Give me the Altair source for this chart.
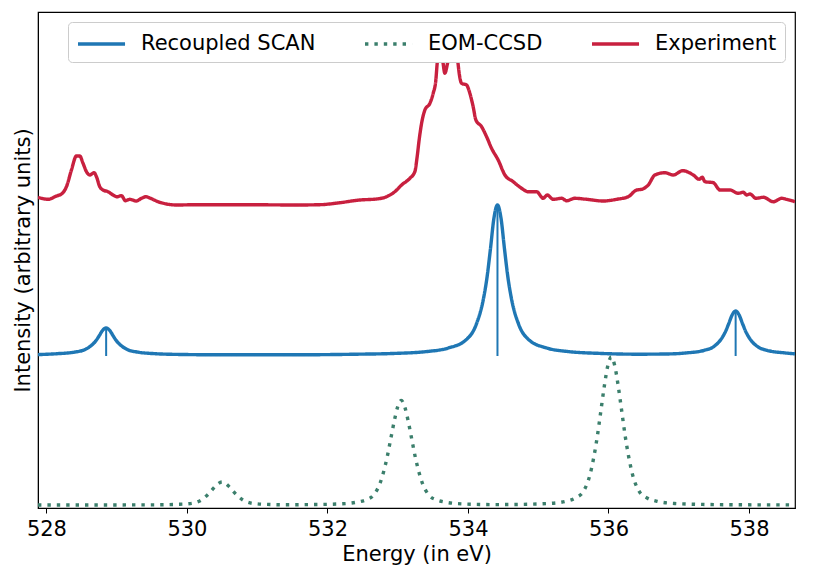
import altair as alt
import pandas as pd

# ---- data (x in eV, y in arbitrary units) ----
scan_x = [527.88, 528.15, 528.40, 528.55, 528.65, 528.70, 528.75, 528.80, 528.85, 528.90, 528.95,
          529.00, 529.05, 529.15, 529.30, 529.55, 529.85, 530.50, 531.50, 532.42, 532.92, 533.42,
          533.72, 533.97, 534.12, 534.22, 534.27, 534.32, 534.37, 534.42, 534.47, 534.52, 534.57,
          534.62, 534.72, 534.87, 535.12, 535.42, 535.92, 536.42, 536.81, 537.11, 537.36, 537.51,
          537.61, 537.66, 537.71, 537.76, 537.81, 537.86, 537.91, 537.96, 538.01, 538.11, 538.26,
          538.51, 538.655]
scan_y = [153.4, 154.3, 155.9, 158.5, 163.2, 166.9, 172.1, 177.7, 180.0, 177.7, 172.1,
          166.9, 163.2, 158.5, 155.9, 154.3, 153.6, 153.2, 153.2, 153.8, 154.5, 156.5,
          160.0, 168.0, 184.0, 209.0, 230.0, 259.0, 290.0, 303.0, 290.0, 259.0, 230.0,
          209.0, 184.0, 168.0, 160.0, 156.5, 154.5, 153.8, 154.0, 155.1, 157.6, 162.0,
          169.5, 175.6, 184.0, 193.0, 197.0, 193.0, 184.0, 175.6, 169.5, 162.0, 157.6,
          155.1, 154.2]

eom_x = [527.88, 528.60, 529.20, 529.60, 529.85, 530.00, 530.10, 530.20, 530.25, 530.30, 530.35,
         530.40, 530.45, 530.50, 530.55, 530.60, 530.65, 530.70, 530.75, 530.80, 530.90, 531.00,
         531.15, 531.40, 531.75, 532.15, 532.40, 532.55, 532.65, 532.75, 532.80, 532.85, 532.90,
         532.95, 533.00, 533.05, 533.10, 533.15, 533.20, 533.25, 533.30, 533.35, 533.45, 533.55,
         533.70, 533.95, 534.35, 534.74, 535.14, 535.39, 535.54, 535.64, 535.74, 535.79, 535.84,
         535.89, 535.94, 535.99, 536.04, 536.09, 536.14, 536.19, 536.24, 536.29, 536.34, 536.44,
         536.54, 536.69, 536.94, 537.34, 537.90, 538.655]
eom_y = [3.0, 3.0, 3.1, 3.2, 3.6, 4.15, 5.1, 7.8, 10.4, 13.6, 17.5,
         21.4, 24.6, 26.0, 24.6, 21.4, 17.5, 13.6, 10.4, 7.8, 5.1, 4.15,
         3.6, 3.2, 3.4, 4.0, 5.6, 8.2, 12.4, 25.0, 36.4, 51.0, 68.8,
         86.6, 101.2, 107.5, 101.2, 86.6, 68.8, 51.0, 36.4, 25.0, 12.4, 8.2,
         5.6, 4.0, 3.4, 3.6, 4.5, 6.7, 10.4, 16.3, 34.1, 50.4, 71.1,
         96.2, 121.4, 142.1, 151.0, 142.1, 121.4, 96.2, 71.1, 50.4, 34.1, 16.3,
         10.4, 6.7, 4.5, 3.6, 3.2, 3.1]

exp_x = [527.880, 528.023, 528.142, 528.214, 528.285, 528.356, 528.427, 528.474, 528.521, 528.570,
         528.617, 528.678, 528.712, 528.759, 528.806, 528.877, 528.948, 529.005, 529.068, 529.125,
         529.186, 529.281, 529.353, 529.414, 529.481, 529.589, 529.709, 529.851, 530.136, 530.848,
         531.560, 531.892, 532.177, 532.461, 532.699, 532.841, 532.959, 533.055, 533.173, 533.244,
         533.277, 533.305, 533.340, 533.387, 533.458, 533.505, 533.543, 533.562, 533.600, 533.643,
         533.671, 533.714, 533.767, 533.828, 533.856, 533.875, 533.909, 533.980, 534.027, 534.074,
         534.113, 534.194, 534.265, 534.336, 534.430, 534.526, 534.644, 534.763, 534.858, 534.977,
         535.071, 535.128, 535.213, 535.333, 535.404, 535.522, 535.689, 535.925, 536.116, 536.281,
         536.401, 536.472, 536.566, 536.661, 536.804, 536.922, 537.056, 537.207, 537.292, 537.335,
         537.373, 537.492, 537.587, 537.730, 537.848, 537.919, 537.967, 538.014, 538.100, 538.204,
         538.346, 538.466, 538.537, 538.655]
exp_y = [310.7, 308.7, 312.0, 314.0, 321.3, 338.0, 352.0, 352.0, 344.7, 336.3,
         333.0, 335.3, 331.3, 321.3, 318.0, 316.3, 313.0, 311.3, 312.3, 307.3,
         308.7, 307.0, 309.7, 311.3, 309.7, 306.3, 304.0, 303.0, 303.3, 303.3,
         303.0, 303.3, 305.3, 308.0, 309.0, 311.3, 316.3, 323.0, 329.7, 336.3,
         351.3, 368.0, 384.7, 398.0, 404.7, 414.7, 428.0, 444.7, 458.0, 446.0,
         434.7, 446.0, 458.0, 458.0, 446.0, 434.7, 424.7, 423.0, 414.7, 401.3,
         388.0, 381.3, 371.3, 359.7, 348.0, 333.0, 326.3, 319.7, 316.3, 316.3,
         309.7, 313.0, 308.7, 309.7, 307.3, 309.7, 308.7, 307.0, 308.7, 311.3,
         318.0, 318.7, 323.0, 333.0, 335.3, 333.0, 337.3, 333.0, 328.7, 330.7,
         326.3, 325.3, 318.0, 318.0, 314.7, 315.7, 313.0, 314.0, 309.7, 310.7,
         306.3, 309.7, 308.7, 306.3]

stick_x = [528.85, 534.42, 537.81]
stick_top = [180.0, 303.0, 197.0]
stick_base = [152.0, 152.0, 152.0]

series_names = ["Recoupled SCAN", "EOM-CCSD", "Experiment"]
series_colors = ["#1f77b4", "#3b7f6c", "#c8203f"]

# ---- build tables ----
frames = []
for name, xs, ys in [(series_names[0], scan_x, scan_y),
                     (series_names[1], eom_x, eom_y),
                     (series_names[2], exp_x, exp_y)]:
    frames.append(pd.DataFrame({"x": xs, "y": ys, "series": name}))
lines_df = pd.concat(frames, ignore_index=True)
sticks_df = pd.DataFrame({"x": stick_x, "y": stick_base, "y2": stick_top})

FONT = "DejaVu Sans"
x_scale = alt.Scale(domain=[527.88, 538.655], nice=False, zero=False)
y_scale = alt.Scale(domain=[0, 496], nice=False, zero=False)

x_axis = alt.Axis(title="Energy (in eV)", values=[528, 530, 532, 534, 536, 538],
                  format="d", grid=False, labelFontSize=21, titleFontSize=21,
                  titleFontWeight="normal", labelFont=FONT, titleFont=FONT,
                  tickSize=5, tickColor="black", domainColor="black",
                  labelColor="black", titleColor="black", labelPadding=5,
                  titlePadding=4)
y_axis = alt.Axis(title="Intensity (arbitrary units)", labels=False, ticks=False,
                  grid=False, titleFontSize=21, titleFontWeight="normal",
                  titleFont=FONT, domainColor="black", titleColor="black",
                  titlePadding=5)


def make_legend():
    return alt.Legend(title=None, orient="none", legendX=30, legendY=10,
                      direction="horizontal",
                      symbolType="M-1,0H2.92", symbolSize=576, symbolStrokeWidth=3.4,
                      labelFontSize=21, labelFont=FONT, labelColor="black", labelLimit=0,
                      labelOffset=37, columnPadding=42, padding=8,
                      fillColor="white", strokeColor="#cccccc", cornerRadius=4)


lines = alt.Chart(lines_df).mark_line(interpolate="monotone", strokeWidth=3.4,
                                      strokeCap="butt", strokeJoin="round", clip=True).encode(
    x=alt.X("x:Q", scale=x_scale, axis=x_axis),
    y=alt.Y("y:Q", scale=y_scale, axis=y_axis),
    color=alt.Color("series:N",
                    scale=alt.Scale(domain=series_names, range=series_colors),
                    legend=make_legend()),
    strokeDash=alt.StrokeDash("series:N",
                              scale=alt.Scale(domain=series_names,
                                              range=[[1, 0], [3.4, 6], [1, 0]]),
                              legend=make_legend()),
)

sticks = alt.Chart(sticks_df).mark_rule(strokeWidth=2, color="#1f77b4").encode(
    x=alt.X("x:Q", scale=x_scale),
    y=alt.Y("y:Q", scale=y_scale),
    y2="y2:Q",
)

chart = alt.layer(lines, sticks).properties(
    width=757, height=496,
    autosize=alt.AutoSizeParams(type="none"),
    padding={"left": 30, "top": 4, "right": 20, "bottom": 60},
).configure(background="white").configure_view(stroke="black", strokeWidth=1.2)

chart.save("out.html", embed_options={"renderer": "svg", "actions": False})
